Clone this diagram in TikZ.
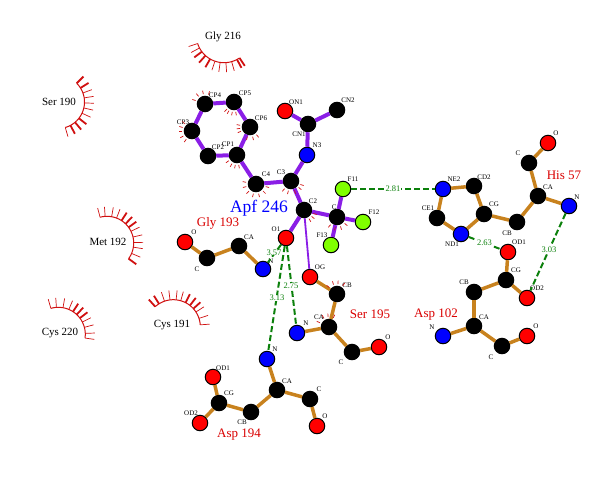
\documentclass[tikz,border=0pt]{standalone}
\usepackage{fontspec}
\setmainfont{Liberation Serif}
\usepackage{tikz}
\definecolor{bondlig}{HTML}{8A1EE6}
\definecolor{bondres}{HTML}{C8821E}
\definecolor{hbondgreen}{HTML}{0B800B}
\definecolor{hphobred}{HTML}{D01010}
\definecolor{fluor}{HTML}{80FF00}
\tikzstyle{catom} = [circle, draw=black, fill=black, line width=1pt, inner sep=0, minimum size=15.5pt]
\tikzstyle{oatom} = [catom, fill=red]
\tikzstyle{natom} = [catom, fill=blue]
\tikzstyle{fatom} = [catom, fill=fluor]
\tikzstyle{atomtxt} = [font=\fontsize{7}{7}\selectfont, inner sep=0]
\tikzstyle{restxt} = [font=\fontsize{13}{13}\selectfont, text=red!85!black, inner sep=0]
\tikzstyle{hphobtxt} = [font=\fontsize{11}{11}\selectfont, inner sep=0]
\tikzstyle{ligtxt} = [font=\fontsize{17.5}{17.5}\selectfont, text=blue, inner sep=0]
\tikzstyle{disttxt} = [font=\fontsize{8.5}{8.5}\selectfont, text=hbondgreen, fill=white, inner sep=1pt]
\tikzstyle{ligbond} = [draw=bondlig, line width=4pt]
\tikzstyle{resbond} = [draw=bondres, line width=3.5pt]
\tikzstyle{hbond} = [draw=hbondgreen, line width=2pt, dash pattern=on 6pt off 3pt]
\tikzstyle{lash} = [draw=hphobred, line width=0.7pt]
\tikzstyle{lashthick} = [draw=hphobred, line width=1.8pt]
% arc of a hydrophobic contact: x, y, radius, from, to, thin spokes, thick spokes
\newcommand{\hphob}[7]{
    \begin{scope}[shift={(#1,#2)}]
        \draw[lash, line width=1pt] plot[domain=#4:#5, samples=30] (\x:#3);
        \foreach \a in {#6} {\draw[lash] (\a:#3) -- (\a:#3+9.5);}
        \foreach \a in {#7} {\draw[lashthick] (\a:#3) -- (\a:#3+9.5);}
    \end{scope}
}
% short red ticks round an atom
\newcommand{\ticks}[2]{
    \foreach \a in {#2} {\draw[lash] ([shift={(\a:10)}]#1.center) -- ([shift={(\a:13.5)}]#1.center);}
}

\begin{document}
\begin{tikzpicture}[x=1pt, y=-1pt]
\useasboundingbox (0,0) rectangle (600,480);

% carbons
\foreach \id/\px/\py/\lx/\ly/\txt in {
    cpf/205/104/215/95/CP4, cpe/234/102/245/93/CP5, cpd/250/127/261/118/CP6,
    cpa/237/155/228/144/CP1, cpb/208/156/218/147/CP2, cpc/192/131/183/122/CP3,
    cna/308/124/299/134/CN1, cnb/337/110/348/100/CN2,
    cfour/256/184/266/174/C4, cthree/291/181/281/172/C3, ctwo/304/210/313/201/C2, cone/337/217/336/207/C1,
    glyc/207/258/197/269/C, glyca/239/246/249/237/CA,
    sercb/337/294/347/285/CB, serca/329/327/319/317/CA, serc/352/352/341/362/C,
    hisc/529/163/518/153/C, hisca/538/196/548/187/CA, hiscb/517/222/507/233/CB,
    hiscg/484/214/494/204/CG, hiscd/474/186/484/177/CD2, hisce/437/218/428/208/CE1,
    aspcg/506/280/516/270/CG, aspcb/474/292/464/282/CB, aspca/474/326/484/317/CA, aspc/502/346/491/357/C,
    dcg/219/403/229/393/CG, dcb/251/412/242/422/CB, dca/277/390/287/381/CA, dc/310/399/319/389/C}
    {\node[catom] (\id) at (\px,\py) {}; \node[atomtxt] (t\id) at (\lx,\ly) {\txt};}
% oxygens
\foreach \id/\px/\py/\lx/\ly/\txt in {
    ona/285/111/296/102/ON1, oone/286/238/276/229/O1,
    glyo/185/242/194/232/O, serog/310/277/320/267/OG, sero/379/347/388/337/O,
    hiso/548/143/556/133/O, aspoa/508/252/519/242/OD1, aspob/527/298/537/288/OD2, aspo/527/336/536/326/O,
    doa/213/377/223/368/OD1, dob/200/423/191/413/OD2, doo/317/426/325/416/O}
    {\node[oatom] (\id) at (\px,\py) {}; \node[atomtxt] (t\id) at (\lx,\ly) {\txt};}
% nitrogens
\foreach \id/\px/\py/\lx/\ly/\txt in {
    nthree/307/155/317/145/N3, glyn/263/269/271/261/N, sern/297/333/306/323/N,
    hisn/569/206/577/197/N, hisne/443/189/454/179/NE2, hisnd/461/234/452/244/ND1,
    aspn/443/336/432/327/N, dn/267/359/275/349/N}
    {\node[natom] (\id) at (\px,\py) {}; \node[atomtxt] (t\id) at (\lx,\ly) {\txt};}
% fluorines
\foreach \id/\px/\py/\lx/\ly/\txt in {
    ffa/343/189/353/179/F11, ffb/363/222/374/212/F12, ffc/331/245/322/235/F13}
    {\node[fatom] (\id) at (\px,\py) {}; \node[atomtxt] (t\id) at (\lx,\ly) {\txt};}

% ligand bonds
\foreach \p/\q in {cpf/cpe, cpe/cpd, cpd/cpa, cpa/cpb, cpb/cpc, cpc/cpf, cpa/cfour, cfour/cthree,
    cthree/nthree, nthree/cna, cna/ona, cna/cnb, cthree/ctwo, ctwo/cone, ctwo/oone,
    cone/ffa, cone/ffb, cone/ffc}
    {\draw[ligbond] (\p) -- (\q);}
\draw[draw=bondlig, line width=1.8pt] (ctwo) -- (serog);

% residue bonds
\foreach \p/\q in {glyo/glyc, glyc/glyca, glyca/glyn,
    serog/sercb, sercb/serca, serca/sern, serca/serc, serc/sero,
    hiso/hisc, hisc/hisca, hisca/hisn, hisca/hiscb, hiscb/hiscg, hiscg/hiscd, hiscd/hisne,
    hisne/hisce, hisce/hisnd, hisnd/hiscg,
    aspoa/aspcg, aspcg/aspob, aspcg/aspcb, aspcb/aspca, aspca/aspn, aspca/aspc, aspc/aspo,
    dn/dca, dca/dc, dc/doo, dca/dcb, dcb/dcg, dcg/doa, dcg/dob}
    {\draw[resbond] (\p) -- (\q);}

% hydrogen bonds
\draw[hbond] (ffa) -- node[disttxt] (da) {2.81} (hisne);
\draw[hbond] (hisnd) -- node[disttxt] (db) {2.63} (aspoa);
\draw[hbond] (hisn) -- node[disttxt, pos=0.47] (dc) {3.03} (aspob);
\draw[hbond] (oone) -- (glyn);
\draw[hbond] (oone) -- (sern);
\draw[hbond] (oone) -- (dn);
\node[disttxt, inner sep=0] (dd) at (274,252.5) {3.57};
\node[disttxt, inner sep=0] (de) at (291,286) {2.75};
\node[disttxt, inner sep=0] (df) at (277,298) {3.13};

% hydrophobic contacts
\hphob{224}{35}{27.7}{56}{162}{162,152,109,98,86,74}{143,132,120,62,56}
\hphob{58}{102}{26.5}{-45}{74}{-20,-9,2,13,25,74}{-45,-32,38,50,62}
\hphob{107}{243}{26.7}{-105}{36}{-105,-94,-80,-69,-26,-13,-1,9,23}{-57,-46,-36,36}
\hphob{58.3}{334.3}{27}{-106}{8}{-106,-94,-80,-67,-27,-15,-2,8}{-57,-47,-37}
\hphob{173.3}{326.7}{27}{-132}{-4}{-109,-97,-84,-74,-33,-18,-4}{-132,-122,-63,-52,-42}

\ticks{cpf}{-160,-130,-100,-70}
\ticks{cpe}{80,100,120,135}
\ticks{cpd}{50,75,105,155,172,190}
\ticks{cpc}{125,150,180,200,225}
\ticks{cpa}{80,100,120,145}
\ticks{cfour}{15,45,75,105,135,165,190}
\ticks{cthree}{20,40,70,105,130}
\ticks{ctwo}{20,40,60}
\ticks{cone}{40,70,100,130}
\ticks{sercb}{-140,-110,-85,-55}
\ticks{serca}{-155,-120,-95,-65}

% residue names
\node[ligtxt] (apf) at (259,208) {Apf 246};
\node[restxt] (glyname) at (218,223) {Gly 193};
\node[restxt] (sername) at (370,314) {Ser 195};
\node[restxt] (hisname) at (564,175) {His 57};
\node[restxt] (aspname) at (436,315) {Asp 102};
\node[restxt] (dname) at (239,435) {Asp 194};
\node[hphobtxt] (glyb) at (223,37) {Gly 216};
\node[hphobtxt] (sera) at (59,102) {Ser 190};
\node[hphobtxt] (meta) at (108,242) {Met 192};
\node[hphobtxt] (cysa) at (60,333) {Cys 220};
\node[hphobtxt] (cysb) at (172,325) {Cys 191};
\end{tikzpicture}
\end{document}
